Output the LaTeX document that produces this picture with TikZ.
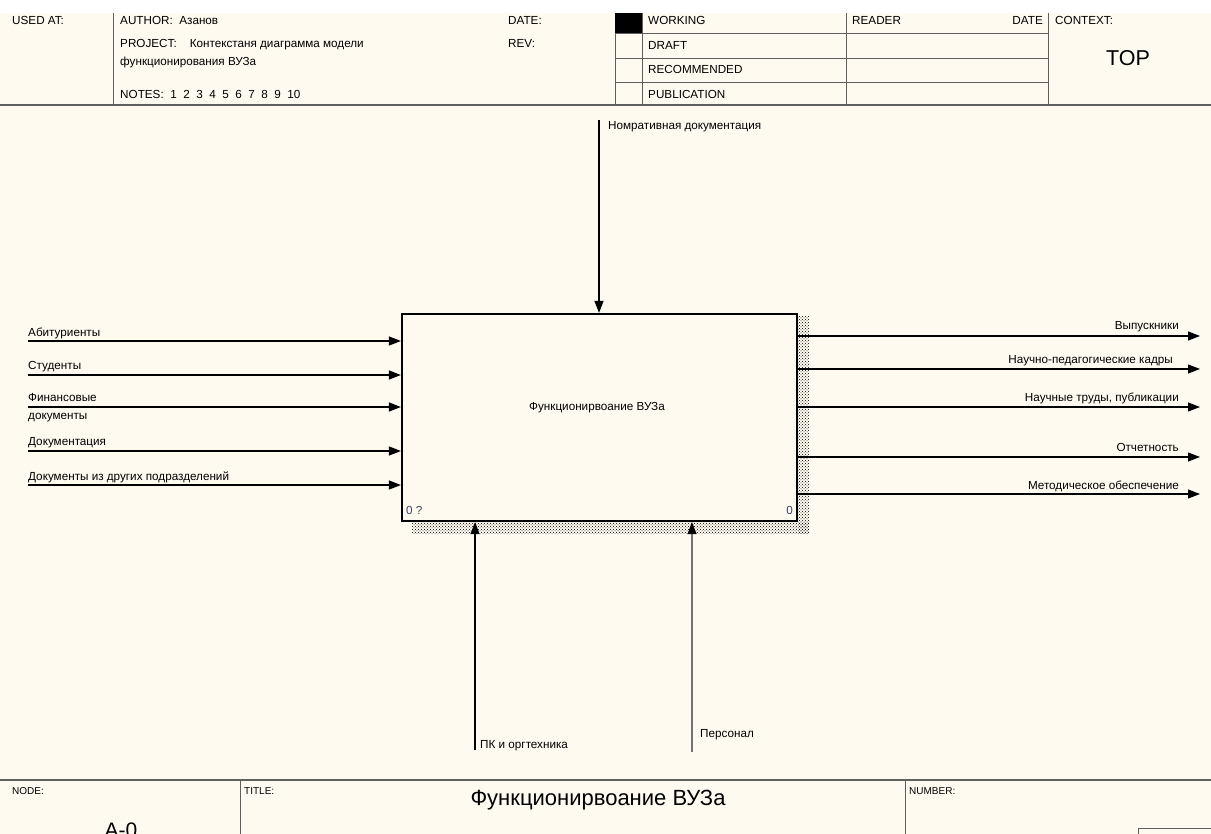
\documentclass[tikz,border=0pt]{standalone}
\usepackage{fontspec}
\setmainfont{Liberation Sans}
\usetikzlibrary{positioning,arrows.meta,calc,patterns}
\definecolor{paper}{RGB}{255,250,240}
\definecolor{rule}{RGB}{95,95,95}
\definecolor{numink}{RGB}{55,65,105}

\begin{document}
\begin{tikzpicture}[
        x=1pt, y=-1pt,
        font=\fontsize{11.7}{13}\selectfont,
        lbl/.style={inner sep=0pt, anchor=base west},
        rlbl/.style={inner sep=0pt, anchor=base east},
        grid/.style={draw=rule, line width=0.8pt},
        flow/.style={-{Triangle[length=12pt,width=9pt]}, line width=1.1pt},
        funcbox/.style={draw, line width=2.2pt, minimum width=395pt, minimum height=207pt, inner sep=0pt},
        shade/.style={pattern=crosshatch dots, pattern color=black}
    ]
        \fill[white] (0,0) rectangle (1211,834);
        \fill[paper] (0,13) rectangle (1211,834);
        \useasboundingbox (0,0) rectangle (1211,834);

        % header
        \draw[grid] (113,13) -- (113,105);
        \draw[grid] (615,13) -- (615,105);
        \draw[grid] (642,13) -- (642,105);
        \draw[grid] (846,13) -- (846,105);
        \draw[grid] (1048,13) -- (1048,105);
        \foreach \y in {33,58,82}
            \draw[grid] (615,\y) -- (1048,\y);
        \fill[black] (615,13) rectangle (642,33);
        \draw[rule, line width=1.6pt] (0,105) -- (1211,105);

        \node[lbl] (usedat) at (12,25) {USED AT:};
        \node[lbl] (author) at (120,25) {AUTHOR:\ \ Азанов};
        \node[lbl] (project) at (120,48) {PROJECT:\ \ \ \ Контекстаня диаграмма модели};
        \node[lbl] (project2) at (120,66) {функционирования ВУЗа};
        \node[lbl] (notes) at (120,99) {NOTES:\ \ 1\ \ 2\ \ 3\ \ 4\ \ 5\ \ 6\ \ 7\ \ 8\ \ 9\ \ 10};
        \node[lbl] (date) at (508,25) {DATE:};
        \node[lbl] (rev) at (508,48) {REV:};
        \node[lbl] (working) at (648,25) {WORKING};
        \node[lbl] (draft) at (648,50) {DRAFT};
        \node[lbl] (recom) at (648,74) {RECOMMENDED};
        \node[lbl] (public) at (648,99) {PUBLICATION};
        \node[lbl] (reader) at (852,25) {READER};
        \node[rlbl] (rdate) at (1043,25) {DATE};
        \node[lbl] (context) at (1055,25) {CONTEXT:};
        \node[font=\fontsize{21.5}{24}\selectfont] (top) at (1128,58) {TOP};

        % function box
        \node[funcbox] (func) at (599.5,417.5) {};
        \node (functxt) at (597,408) {Функционирвоание ВУЗа};
        \node[lbl, text=numink] (nodenum) at ($(func.south west)+(5,-8)$) {0 ?};
        \node[rlbl, text=numink] (cost) at ($(func.south east)+(-5,-8)$) {0};

        % inputs
        \coordinate (in1) at (28,341);
        \coordinate (in2) at (28,375);
        \coordinate (in3) at (28,407);
        \coordinate (in4) at (28,451);
        \coordinate (in5) at (28,485);
        \foreach \i in {1,...,5}
            \draw[flow] (in\i) -- (in\i -| func.west);
        \node[lbl] (tin1) at ($(in1)+(0,-4)$) {Абитуриенты};
        \node[lbl] (tin2) at ($(in2)+(0,-5)$) {Студенты};
        \node[inner sep=0pt, anchor=west, align=left, font=\fontsize{11.7}{18}\selectfont] (tin3) at ($(in3)+(0,1)$) {Финансовые\\документы};
        \node[lbl] (tin4) at ($(in4)+(0,-5)$) {Документация};
        \node[lbl] (tin5) at ($(in5)+(0,-5)$) {Документы из других подразделений};

        % outputs
        \coordinate (out1) at (1200,336);
        \coordinate (out2) at (1200,369);
        \coordinate (out3) at (1200,407);
        \coordinate (out4) at (1200,457);
        \coordinate (out5) at (1200,494);
        \foreach \i in {1,...,5}
            \draw[flow] (out\i -| func.east) -- (out\i);
        \node[rlbl] (tout1) at ($(out1)+(-21,-6)$) {Выпускники};
        \node[rlbl] (tout2) at ($(out2)+(-27,-5)$) {Научно-педагогические кадры};
        \node[rlbl] (tout3) at ($(out3)+(-21,-5)$) {Научные труды, публикации};
        \node[rlbl] (tout4) at ($(out4)+(-21,-6)$) {Отчетность};
        \node[rlbl] (tout5) at ($(out5)+(-21,-5)$) {Методическое обеспечение};

        % shadow
        \fill[shade] ($(func.north east)+(0,4)$) rectangle ($(func.south east)+(11,11)$);
        \fill[shade] ($(func.south west)+(11,0)$) rectangle ($(func.south east)+(11,11)$);

        % control
        \coordinate (ctl) at (599,120);
        \draw[flow] (ctl) -- (ctl |- func.north);
        \node[lbl] (tctl) at (608,130) {Номративная документация};

        % mechanisms
        \coordinate (mech1) at (475,750);
        \coordinate (mech2) at (692,752);
        \draw[flow] (mech1) -- (mech1 |- func.south);
        \draw[-{Triangle[length=12pt,width=9pt,color=black]}, line width=1.1pt, draw=black!55] (mech2) -- (mech2 |- func.south);
        \node[lbl] (tmech1) at (480,748) {ПК и оргтехника};
        \node[lbl] (tmech2) at (700,737) {Персонал};

        % footer
        \draw[rule, line width=2pt] (0,780) -- (1211,780);
        \draw[grid] (240,780) -- (240,834);
        \draw[grid] (905,780) -- (905,834);
        \draw[grid] (1138,834) -- (1138,828) -- (1211,828);
        \node[lbl, font=\fontsize{10}{12}\selectfont] (nodelbl) at (12,794) {NODE:};
        \node[lbl, font=\fontsize{10}{12}\selectfont] (titlelbl) at (244,794) {TITLE:};
        \node[lbl, font=\fontsize{10}{12}\selectfont] (numlbl) at (909,794) {NUMBER:};
        \node[font=\fontsize{22}{24}\selectfont] (title) at (598,800) {Функционирвоание ВУЗа};
        \node[inner sep=0pt, anchor=base, font=\fontsize{21}{24}\selectfont] (nodeid) at (121,837) {A-0};
    \end{tikzpicture}
\end{document}
